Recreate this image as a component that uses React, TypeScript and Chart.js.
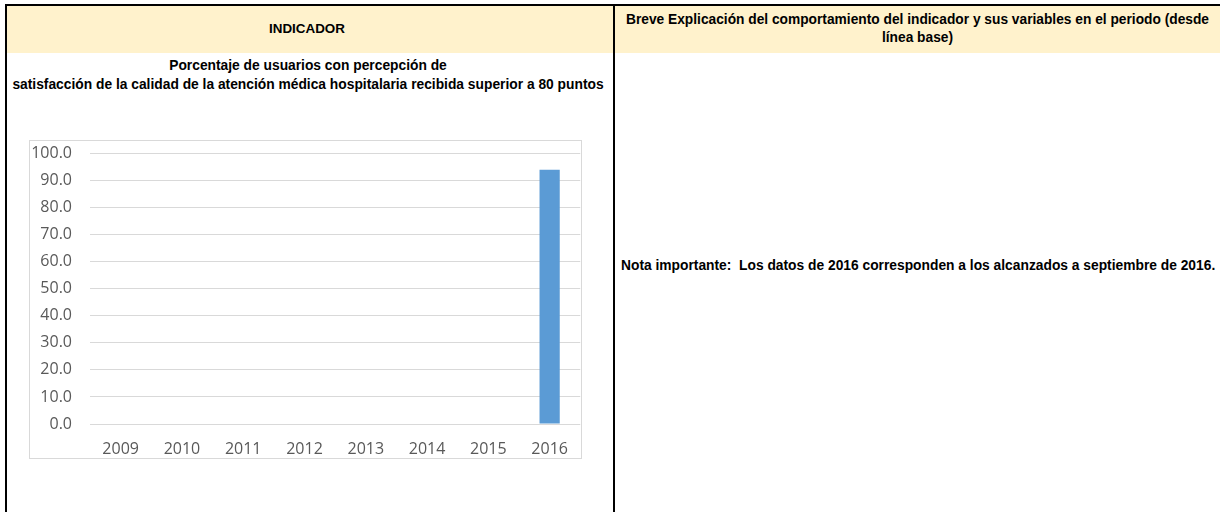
import React, { useEffect, useRef } from "react";
import { Chart, registerables } from "chart.js";

Chart.register(...registerables);

const categories: string[] = ["2009", "2010", "2011", "2012", "2013", "2014", "2015", "2016"];
const percentValues: (number | null)[] = [null, null, null, null, null, null, null, 94.0];
const yMin = 0;
const yMax = 100;
const yStep = 10;

const headerLeft = "INDICADOR";
const headerRightLines = [
  "Breve Explicación del comportamiento del indicador y sus variables en el periodo (desde",
  "línea base)",
];
const titleLines = [
  "Porcentaje de usuarios con percepción de",
  "satisfacción de la calidad de la atención médica hospitalaria recibida superior a 80 puntos",
];
const noteText = "Nota importante:  Los datos de 2016 corresponden a los alcanzados a septiembre de 2016.";

const BOLD_FONT = "'Liberation Sans', Arial, sans-serif";
const AXIS_FONT = "'Open Sans', sans-serif";

function BarChart() {
  const ref = useRef<HTMLCanvasElement | null>(null);
  useEffect(() => {
    if (!ref.current) return;
    const chart = new Chart(ref.current, {
      type: "bar",
      data: {
        labels: categories,
        datasets: [
          {
            data: percentValues,
            backgroundColor: "#5B9BD5",
            borderWidth: 0,
            barPercentage: 0.33,
            categoryPercentage: 1,
          },
        ],
      },
      options: {
        responsive: false,
        animation: false,
        layout: { padding: { top: 0, right: 1, bottom: 0, left: 0 } },
        plugins: { legend: { display: false }, tooltip: { enabled: false } },
        scales: {
          x: {
            grid: { display: false, drawTicks: false },
            border: { display: false },
            ticks: {
              color: "#595959",
              font: { family: AXIS_FONT, size: 16 },
              padding: 16,
              maxRotation: 0,
            },
            afterFit: (s: any) => {
              s.height = 34;
            },
          },
          y: {
            min: yMin,
            max: yMax,
            grid: { color: "#d9d9d9", lineWidth: 1, drawTicks: false },
            border: { display: false },
            ticks: {
              stepSize: yStep,
              color: "#595959",
              font: { family: AXIS_FONT, size: 16 },
              padding: 18,
              callback: (v: any) => Number(v).toFixed(1),
            },
            afterFit: (s: any) => {
              s.width = 60;
            },
          },
        },
      },
    });
    return () => chart.destroy();
  }, []);
  return <canvas ref={ref} width={554} height={332} style={{ display: "block" }} />;
}

export default function App() {
  const abs = (l: number, t: number, w: number, h: number, extra: React.CSSProperties = {}): React.CSSProperties => ({
    position: "absolute",
    left: l,
    top: t,
    width: w,
    height: h,
    ...extra,
  });
  const boldText: React.CSSProperties = {
    fontFamily: BOLD_FONT,
    fontWeight: 700,
    color: "#000",
    whiteSpace: "pre",
  };
  return (
    <div style={{ position: "absolute", left: 0, top: 0, width: 1220, height: 512, background: "#fff", overflow: "hidden" }}>
      {/* header fills */}
      <div style={abs(7, 6, 606, 47, { background: "#FFF2CC" })} />
      <div style={abs(615, 6, 605, 47, { background: "#FFF2CC" })} />
      {/* borders */}
      <div style={abs(5, 4, 1215, 2, { background: "#000" })} />
      <div style={abs(5, 4, 2, 508, { background: "#000" })} />
      <div style={abs(613, 4, 2, 508, { background: "#000" })} />

      {/* header texts */}
      <div style={abs(4, 20, 606, 18, { ...boldText, fontSize: 13.4, textAlign: "center", lineHeight: "18px" })}>
        {headerLeft}
      </div>
      <div style={abs(615, 11, 605, 36, { ...boldText, fontSize: 13.75, textAlign: "center", lineHeight: "18px" })}>
        {headerRightLines.map((l, i) => (
          <div key={i}>{l}</div>
        ))}
      </div>

      {/* chart title */}
      <div style={abs(7, 56, 602, 40, { ...boldText, fontSize: 13.8, textAlign: "center", lineHeight: "19px" })}>
        {titleLines.map((l, i) => (
          <div key={i}>{l}</div>
        ))}
      </div>

      {/* chart frame */}
      <div style={abs(29, 140, 553, 319, { border: "1px solid #d9d9d9", boxSizing: "border-box", background: "#fff" })} />
      <div style={abs(30, 126, 554, 332)}>
        <BarChart />
      </div>

      {/* note */}
      <div style={abs(621, 257, 599, 18, { ...boldText, fontSize: 13.8, lineHeight: "18px" })}>{noteText}</div>
    </div>
  );
}
